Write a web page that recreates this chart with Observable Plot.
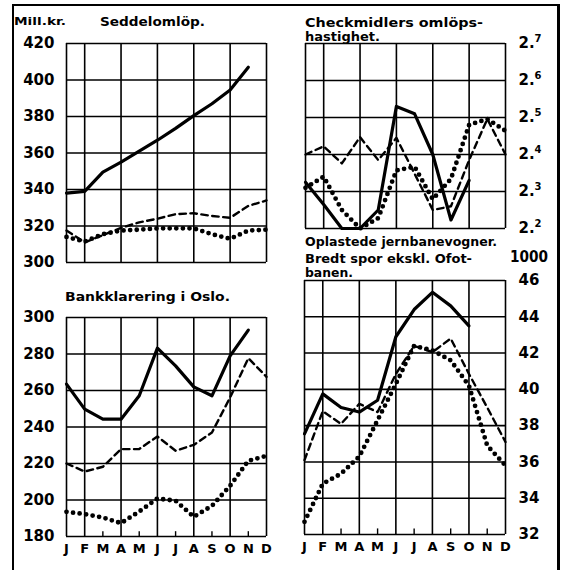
<!DOCTYPE html>
<html><head><meta charset="utf-8">
<script src="https://cdn.jsdelivr.net/npm/d3@7"></script>
<script src="https://cdn.jsdelivr.net/npm/@observablehq/plot@0.6"></script>
<style>
body{margin:0;background:#fff;}
#wrap{position:relative;width:562px;height:570px;overflow:hidden;background:#fff;font-family:"DejaVu Sans",sans-serif;}
.p{position:absolute;}
#border{position:absolute;left:12px;top:4px;width:543px;height:575px;border-left:2.5px solid #000;border-top:2px solid #000;border-right:3.5px solid #000;}
#over{position:absolute;left:0;top:0;pointer-events:none;}
</style></head><body><div id="wrap"><div id="border"></div></div>
<script>
const months = ["J","F","M","A","M","J","J","A","S","O","N","D"];
// Seddelomløp (mill. kr)
const seddelSolid = [338,339,349.5,355,361,367,373.5,380.5,387,394.5,407];
const seddelDashed = [317.5,311,315,319,322,324,326.5,327,325.5,324.5,331,334];
const seddelDotted = [314,311.5,315.5,317.5,318,318.7,318.7,318.7,315.5,313,317.5,318];
const seddelTicks = [300,320,340,360,380,400,420];
// Checkmidlers omløpshastighet
const checkSolid = [2.325,2.265,2.2,2.2,2.25,2.53,2.51,2.40,2.223,2.33];
const checkDashed = [2.40,2.422,2.376,2.447,2.385,2.445,2.348,2.25,2.26,2.385,2.496,2.40];
const checkDotted = [2.31,2.34,2.25,2.2,2.228,2.357,2.367,2.279,2.334,2.48,2.496,2.464];
const checkTicks = [2.2,2.3,2.4,2.5,2.6,2.7];
const checkTickInt = ["2.","2.","2.","2.","2.","2."];
const checkTickDec = ["2","3","4","5","6","7"];
// Bankklarering i Oslo
const bankSolid = [263.5,249.8,244.3,244.3,257.1,283.2,273.5,262,257.1,279,293.1];
const bankDashed = [220,215.6,218.2,227.9,227.9,234.8,227,230.2,237,256.2,277.7,267.5];
const bankDotted = [193.5,192.3,190.4,187.3,193.7,200.8,199.6,190.8,196.8,207.8,221.5,224.2];
const bankTicks = [180,200,220,240,260,280,300];
// Oplastede jernbanevogner (1000)
const vognSolid = [37.55,39.75,39.0,38.75,39.4,42.9,44.4,45.35,44.6,43.5];
const vognDashed = [36.1,38.8,38.1,39.2,38.75,40.85,42.4,42.05,42.8,40.85,39.0,37.1];
const vognDotted = [32.7,34.8,35.35,36.3,38.3,40.3,42.4,42.15,41.6,40.2,36.9,35.8];
const vognTicks = [32,34,36,38,40,42,44,46];

const gridMonths = [0,1,3,5,7,9,11];
const minorMonths = [2,4,6,8,10];

const wrap = document.getElementById("wrap");

function panel(o) {
  const pts = arr => arr.map((v, i) => ({x: i, y: v}));
  const d0 = o.ticks[0], d1 = o.ticks[o.ticks.length - 1];
  const anchorText = o.side === "left" ? "end" : "start";
  const marks = [
    Plot.ruleY(o.ticks, {stroke: "#000", strokeWidth: 1.6}),
    Plot.ruleX(gridMonths, {stroke: "#000", strokeWidth: 1.6}),
    Plot.line(pts(o.dashed), {x: "x", y: "y", stroke: "#000", strokeWidth: 2.4, strokeDasharray: "6.5,4.5"}),
    Plot.line(pts(o.dotted), {x: "x", y: "y", stroke: "#000", strokeWidth: 4.8, strokeDasharray: "0,6.6", strokeLinecap: "round"}),
    Plot.line(pts(o.solid), {x: "x", y: "y", stroke: "#000", strokeWidth: 3.2, strokeLinejoin: "round"})
  ];
  if (o.intLabels) {
    marks.push(Plot.axisY(o.ticks, {anchor: o.side, tickSize: 0, tickPadding: o.pad, label: null,
      tickFormat: d => o.intLabels[o.ticks.indexOf(d)], fontSize: 15, fontWeight: "bold", textAnchor: anchorText}));
    marks.push(Plot.axisY(o.ticks, {anchor: o.side, tickSize: 0, tickPadding: o.pad + 16, label: null, dy: -5,
      tickFormat: d => o.decLabels[o.ticks.indexOf(d)], fontSize: 10, fontWeight: "bold", textAnchor: anchorText}));
  } else {
    marks.push(Plot.axisY(o.ticks, {anchor: o.side, tickSize: 0, tickPadding: o.pad, label: null,
      tickFormat: d => String(d), fontSize: 15, fontWeight: "bold", textAnchor: anchorText}));
  }
  if (o.xaxis) {
    marks.push(Plot.ruleX(minorMonths, {y1: d0, y2: d0 + (d1 - d0) * 0.022, stroke: "#000", strokeWidth: 1.4}));
    marks.push(Plot.axisX(d3.range(12), {anchor: "bottom", tickSize: 0, tickPadding: 7, label: null,
      tickFormat: i => months[i], fontSize: 13, fontWeight: "bold"}));
  }
  const chart = Plot.plot({
    width: o.width, height: o.height,
    marginTop: o.mt, marginRight: o.mr, marginBottom: o.mb, marginLeft: o.ml,
    x: {domain: [0, 11], axis: o.xaxis ? undefined : null, label: null},
    y: {domain: [d0, d1], label: null},
    style: {background: "transparent", fontFamily: "DejaVu Sans, sans-serif", color: "#000", overflow: "visible"},
    marks
  });
  chart.classList.add("p");
  chart.style.left = o.left + "px";
  chart.style.top = o.top + "px";
  wrap.appendChild(chart);
}

panel({left: 0, top: 0, width: 290, height: 275, mt: 43, mr: 24, mb: 13, ml: 66,
  ticks: seddelTicks, side: "left", pad: 12, solid: seddelSolid, dashed: seddelDashed, dotted: seddelDotted, xaxis: false});
panel({left: 290, top: 0, width: 272, height: 240, mt: 43, mr: 57, mb: 12, ml: 15,
  ticks: checkTicks, intLabels: checkTickInt, decLabels: checkTickDec, side: "right", pad: 13,
  solid: checkSolid, dashed: checkDashed, dotted: checkDotted, xaxis: false});
panel({left: 0, top: 290, width: 290, height: 280, mt: 27, mr: 24, mb: 34, ml: 66,
  ticks: bankTicks, side: "left", pad: 12, solid: bankSolid, dashed: bankDashed, dotted: bankDotted, xaxis: true});
panel({left: 290, top: 240, width: 272, height: 330, mt: 40, mr: 57, mb: 36, ml: 14,
  ticks: vognTicks, side: "right", pad: 13, solid: vognSolid, dashed: vognDashed, dotted: vognDotted, xaxis: true});

// titles
const titles = [
  {t: "Mill.kr.", x: 14, y: 25, w: 52, s: 10.5},
  {t: "Seddelomlöp.", x: 100, y: 26, w: 105, s: 11.5},
  {t: "Checkmidlers omlöps-", x: 305, y: 27, w: 178, s: 11.5},
  {t: "hastighet.", x: 305, y: 41, w: 75, s: 11.5},
  {t: "Bankklarering i Oslo.", x: 65, y: 301, w: 165, s: 11.5},
  {t: "Oplastede jernbanevogner.", x: 305, y: 246, w: 192, s: 11.5},
  {t: "Bredt spor ekskl. Ofot-", x: 305, y: 263, w: 167, s: 11.5},
  {t: "banen.", x: 305, y: 277, w: 48, s: 11.5},
  {t: "1000", x: 510, y: 262, w: 38, s: 15}
];
const over = d3.select(wrap).append("svg").attr("id", "over").attr("width", 562).attr("height", 570);
over.selectAll("text").data(titles).join("text")
  .attr("x", d => d.x).attr("y", d => d.y)
  .attr("textLength", d => d.w).attr("lengthAdjust", "spacingAndGlyphs")
  .attr("font-family", "DejaVu Sans, sans-serif").attr("font-weight", "bold")
  .attr("font-size", d => d.s).attr("fill", "#000")
  .text(d => d.t);
</script></body></html>
